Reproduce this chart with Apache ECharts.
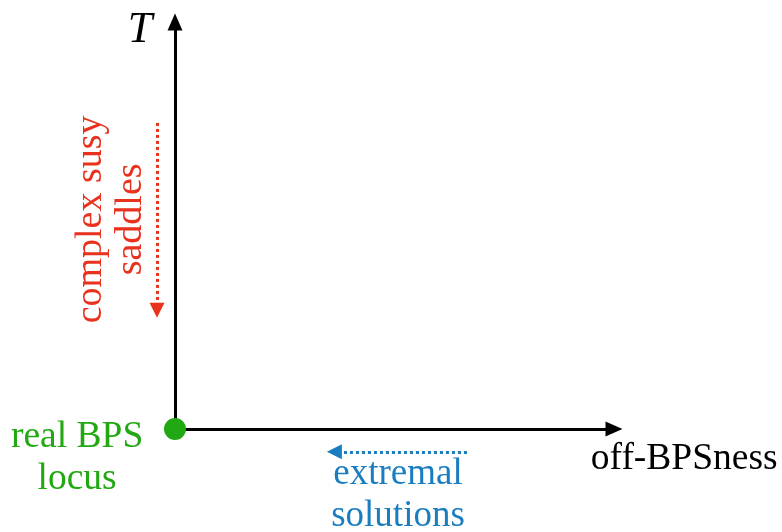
<!DOCTYPE html>
<html><head><meta charset="utf-8">
<script src="https://cdn.jsdelivr.net/npm/echarts@6/dist/echarts.min.js"></script>
<style>html,body{margin:0;padding:0;background:#fff}#c{width:782px;height:532px}</style>
</head><body><div id="c"></div>
<script>
// Schematic values (data units: axes span 0..10)
var originPoint = [[0, 0]];
var redArrow = [[-0.41, 7.52], [-0.41, 2.92]];
var blueArrow = [[6.65, -0.56], [3.63, -0.56]];
var labelTexts = ['T', 'off-BPSness', 'real BPS\nlocus', 'extremal\nsolutions', 'complex susy\nsaddles'];
var labelPoints = [[-0.8, 9.8], [11.6, -0.74], [-2.23, -0.72], [5.08, -1.62], [-1.45, 5.15]];

var serif = '"Liberation Serif", "Times New Roman", serif';
var labelStyles = [
  {color: '#000', fontStyle: 'italic', fontSize: 44},
  {color: '#000', fontSize: 37.5},
  {color: '#22a812', fontSize: 37.5, lineHeight: 42},
  {color: '#1a7dc0', fontSize: 37, lineHeight: 42},
  {color: '#e8321e', fontSize: 38, lineHeight: 40, rotate: 90}
];

var chart = echarts.init(document.getElementById('c'));
var axisCommon = {
  type: 'value', min: 0, max: 10,
  axisLine: {show: true, onZero: true, symbol: ['none', 'triangle'], symbolSize: [15, 17],
    lineStyle: {color: '#000', width: 3}},
  axisTick: {show: false}, axisLabel: {show: false}, splitLine: {show: false}
};
chart.setOption({
  animation: false,
  grid: {left: 175, right: 168, top: 22, bottom: 103},
  xAxis: axisCommon,
  yAxis: axisCommon,
  series: [
    {type: 'lines', coordinateSystem: 'cartesian2d', polyline: false, silent: true, clip: false,
      symbol: ['none', 'triangle'], symbolSize: [13, 15],
      lineStyle: {color: '#e8321e', width: 3, type: [3, 3], opacity: 1},
      data: [{coords: redArrow}]},
    {type: 'lines', coordinateSystem: 'cartesian2d', polyline: false, silent: true, clip: false,
      symbol: ['none', 'triangle'], symbolSize: [13, 15],
      lineStyle: {color: '#1a7dc0', width: 3, type: [3, 3], opacity: 1},
      data: [{coords: blueArrow}]},
    {type: 'scatter', symbolSize: 22, clip: false, silent: true,
      itemStyle: {color: '#22a812', opacity: 1}, data: originPoint, z: 5},
    {type: 'scatter', symbolSize: 0, clip: false, silent: true,
      itemStyle: {opacity: 1},
      data: labelPoints.map(function (p, i) {
        var st = labelStyles[i];
        return {value: p, label: Object.assign({show: true, position: 'inside', formatter: labelTexts[i],
          fontFamily: serif, align: 'center', verticalAlign: 'middle', textBorderWidth: 0}, st)};
      })}
  ]
});
</script></body></html>
